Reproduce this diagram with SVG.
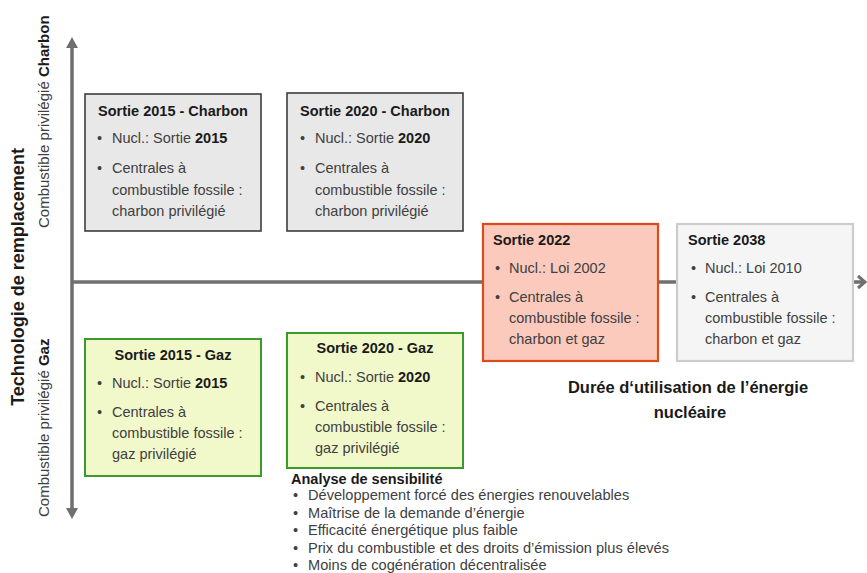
<svg xmlns="http://www.w3.org/2000/svg" width="867" height="573" viewBox="0 0 867 573">
<style>
text{font-family:"Liberation Sans",Arial,sans-serif;fill:#1a1a1a}
.t{font-size:14.5px;font-weight:bold}
.b{font-size:14.5px;fill:#404040}
.b tspan.k{font-weight:bold;fill:#1a1a1a}
.s{font-size:14.6px;fill:#404040}
.ax{stroke:#6f6f6f;stroke-width:3.5;fill:none}
.gray{fill:#e8e8e8;stroke:#3c3c3c;stroke-width:1.6}
.red{fill:#fbcabc;stroke:#df4a1d;stroke-width:2.2}
.lite{fill:#f5f5f5;stroke:#cccccc;stroke-width:2.2}
.green{fill:#f1f9cb;stroke:#3b9a2c;stroke-width:2}
</style>
<rect width="867" height="573" fill="#ffffff"/>
<g id="connectors">
<line class="ax" x1="72" y1="46" x2="72" y2="510"/>
<polygon points="72,37 66,48 78,48" fill="#6f6f6f"/>
<polygon points="72,519 66,508 78,508" fill="#6f6f6f"/>
<line class="ax" x1="72" y1="282" x2="864" y2="282"/>
<polyline points="858,276 865,282 858,288" fill="none" stroke="#6f6f6f" stroke-width="3"/>
</g>
<g id="axis-labels">
<text transform="translate(24,277) rotate(-90)" text-anchor="middle" style="font-size:18px;font-weight:bold">Technologie de remplacement</text>
<text transform="translate(48.5,228) rotate(-90)" style="font-size:15px;fill:#404040">Combustible privilégié <tspan style="font-weight:bold;fill:#1a1a1a">Charbon</tspan></text>
<text transform="translate(48.5,517) rotate(-90)" style="font-size:15px;fill:#404040">Combustible privilégié <tspan style="font-weight:bold;fill:#1a1a1a">Gaz</tspan></text>
<text x="688" y="393" text-anchor="middle" style="font-size:16.5px;font-weight:bold">Durée d‘utilisation de l’énergie</text>
<text x="690" y="418" text-anchor="middle" style="font-size:16.5px;font-weight:bold">nucléaire</text>
</g>
<g id="n-2015-charbon">
<rect class="gray" x="85" y="94" width="176" height="137"/>
<text class="t" x="173" y="116" text-anchor="middle">Sortie 2015 - Charbon</text>
<text class="b" x="97" y="143">•</text><text class="b" x="112" y="143">Nucl.: Sortie <tspan class="k">2015</tspan></text>
<text class="b" x="97" y="173">•</text><text class="b" x="112" y="173">Centrales à</text>
<text class="b" x="112" y="195">combustible fossile :</text>
<text class="b" x="112" y="216">charbon privilégié</text>
</g>
<g id="n-2020-charbon">
<rect class="gray" x="287" y="93" width="176" height="138"/>
<text class="t" x="375" y="116" text-anchor="middle">Sortie 2020 - Charbon</text>
<text class="b" x="300" y="143">•</text><text class="b" x="315" y="143">Nucl.: Sortie <tspan class="k">2020</tspan></text>
<text class="b" x="300" y="173">•</text><text class="b" x="315" y="173">Centrales à</text>
<text class="b" x="315" y="195">combustible fossile :</text>
<text class="b" x="315" y="216">charbon privilégié</text>
</g>
<g id="n-2022">
<rect class="red" x="483" y="224" width="175" height="137"/>
<text class="t" x="493" y="245">Sortie 2022</text>
<text class="b" x="495" y="273">•</text><text class="b" x="509" y="273">Nucl.: Loi 2002</text>
<text class="b" x="495" y="302">•</text><text class="b" x="509" y="302">Centrales à</text>
<text class="b" x="509" y="323">combustible fossile :</text>
<text class="b" x="509" y="344">charbon et gaz</text>
</g>
<g id="n-2038">
<rect class="lite" x="677" y="224" width="176" height="137"/>
<text class="t" x="688" y="245">Sortie 2038</text>
<text class="b" x="691" y="273">•</text><text class="b" x="705" y="273">Nucl.: Loi 2010</text>
<text class="b" x="691" y="302">•</text><text class="b" x="705" y="302">Centrales à</text>
<text class="b" x="705" y="323">combustible fossile :</text>
<text class="b" x="705" y="344">charbon et gaz</text>
</g>
<g id="n-2015-gaz">
<rect class="green" x="85" y="339" width="176" height="137"/>
<text class="t" x="173" y="360" text-anchor="middle">Sortie 2015 - Gaz</text>
<text class="b" x="97" y="388">•</text><text class="b" x="112" y="388">Nucl.: Sortie <tspan class="k">2015</tspan></text>
<text class="b" x="97" y="417">•</text><text class="b" x="112" y="417">Centrales à</text>
<text class="b" x="112" y="438">combustible fossile :</text>
<text class="b" x="112" y="459">gaz privilégié</text>
</g>
<g id="n-2020-gaz">
<rect class="green" x="287" y="333" width="176" height="135"/>
<text class="t" x="375" y="353" text-anchor="middle">Sortie 2020 - Gaz</text>
<text class="b" x="300" y="382">•</text><text class="b" x="315" y="382">Nucl.: Sortie <tspan class="k">2020</tspan></text>
<text class="b" x="300" y="411">•</text><text class="b" x="315" y="411">Centrales à</text>
<text class="b" x="315" y="432">combustible fossile :</text>
<text class="b" x="315" y="453">gaz privilégié</text>
</g>
<g id="sensibilite">
<text x="291" y="484" style="font-size:14.5px;font-weight:bold">Analyse de sensibilité</text>
<text class="s" x="293" y="500">•</text><text class="s" x="308" y="500">Développement forcé des énergies renouvelables</text>
<text class="s" x="293" y="517.5">•</text><text class="s" x="308" y="517.5">Maîtrise de la demande d’énergie</text>
<text class="s" x="293" y="535">•</text><text class="s" x="308" y="535">Efficacité énergétique plus faible</text>
<text class="s" x="293" y="552.5">•</text><text class="s" x="308" y="552.5">Prix du combustible et des droits d’émission plus élevés</text>
<text class="s" x="293" y="569.5">•</text><text class="s" x="308" y="569.5">Moins de cogénération décentralisée</text>
</g>
</svg>
